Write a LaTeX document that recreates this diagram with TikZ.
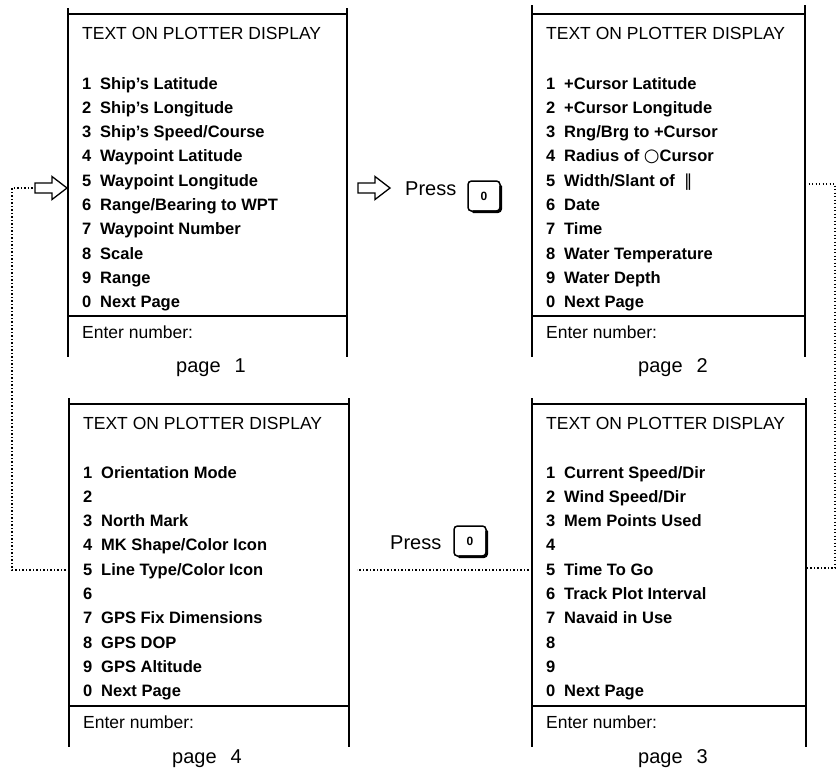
\documentclass[tikz,border=0pt]{standalone}
\usepackage{fontspec}
\setmainfont{Liberation Sans}
\newfontfamily\symfont{DejaVu Sans}
\usetikzlibrary{calc}
\newcommand\mypanel[5]{%
  \coordinate (#1-vtl) at (#2,#5);
  \coordinate (#1-vtr) at (#3,#5);
  \coordinate (#1-vbl) at (#2,#4+357);
  \coordinate (#1-vbr) at (#3,#4+357);
  \coordinate (#1-htl) at (#2,#4+14);
  \coordinate (#1-htr) at (#3,#4+14);
  \coordinate (#1-hsl) at (#2,#4+316);
  \coordinate (#1-hsr) at (#3,#4+316);
  \draw[frame] (#1-vtl) -- (#1-vbl);
  \draw[frame] (#1-vtr) -- (#1-vbr);
  \draw[sep] (#1-htl) -- (#1-htr);
  \draw[sep] (#1-hsl) -- (#1-hsr);
  \node[ttl] (#1-title) at (#2+14,#4+39) {TEXT ON PLOTTER DISPLAY};
  \node[ttl] (#1-enter) at (#2+14,#4+338) {Enter number:};
}
\newcommand\myitems[4]{%
  \foreach \n/\t [count=\i] in {#4} {
    \node[num] (#1-n\i) at (#2+14,{#3+89+24.3*(\i-1)}) {\n};
    \node[num] (#1-t\i) at (#2+32,{#3+89+24.3*(\i-1)}) {\t};
  }
}
\newcommand\mykey[2]{% #1 name, #2 position
  \node[keycap] (#1) at #2 {0};
  \draw[line width=2.6pt,rounded corners=3pt,line cap=round]
    ([yshift=-6pt]#1.north east) -- (#1.south east) -- ([xshift=6pt]#1.south west);
}
\newcommand\myarrow[3]{% #1 name, #2 tip x, #3 y
  \coordinate (#1-tip) at (#2,#3);
  \coordinate (#1-tail) at (#2-32,#3);
  \draw[line width=1.3pt,line join=miter] (#1-tail) -- ++(0,-5) -- ($(#1-tip)+(-15,-5)$)
    -- ($(#1-tip)+(-15,-11.5)$) -- (#1-tip) -- ($(#1-tip)+(-15,11.5)$)
    -- ($(#1-tip)+(-15,5)$) -- ($(#1-tail)+(0,5)$) -- cycle;
}
\begin{document}
\begin{tikzpicture}[x=1pt,y=-1pt,
  frame/.style={line width=1.3pt},
  sep/.style={line width=1.6pt},
  ttl/.style={anchor=base west,inner sep=0,font=\fontsize{17.5}{20}\selectfont},
  num/.style={anchor=base west,inner sep=0,font=\fontsize{16.5}{20}\selectfont\bfseries},
  plbl/.style={anchor=base,inner sep=0,font=\fontsize{20}{24}\selectfont},
  dotline/.style={line width=1.3pt,dash pattern=on 1.3pt off 2.2pt},
  keycap/.style={draw,line width=1.5pt,rounded corners=3.5pt,minimum width=32pt,
    minimum height=30pt,inner sep=0,font=\fontsize{12}{12}\selectfont\bfseries}
]
\useasboundingbox[fill=white] (0,0) rectangle (837,769);

% panels
\mypanel{p1}{68}{347}{0}{8}
\mypanel{p2}{532}{805}{0}{5}
\mypanel{p3}{532}{806}{390}{398}
\mypanel{p4}{69}{349}{390}{398}

\myitems{p1}{68}{0}{1/{Ship's Latitude},2/{Ship's Longitude},3/{Ship's Speed/Course},4/{Waypoint Latitude},5/{Waypoint Longitude},6/{Range/Bearing to WPT},7/{Waypoint Number},8/{Scale},9/{Range},0/{Next Page}}
\myitems{p2}{532}{0}{1/{+Cursor Latitude},2/{+Cursor Longitude},3/{Rng/Brg to +Cursor},4/{Radius of {\symfont\mdseries\fontsize{18}{20}\selectfont ○}Cursor},5/{Width/Slant of \ {\symfont\mdseries ‖}},6/{Date},7/{Time},8/{Water Temperature},9/{Water Depth},0/{Next Page}}
\myitems{p3}{532}{389}{1/{Current Speed/Dir},2/{Wind Speed/Dir},3/{Mem Points Used},4/{},5/{Time To Go},6/{Track Plot Interval},7/{Navaid in Use},8/{},9/{},0/{Next Page}}
\myitems{p4}{69}{389}{1/{Orientation Mode},2/{},3/{North Mark},4/{MK Shape/Color Icon},5/{Line Type/Color Icon},6/{},7/{GPS Fix Dimensions},8/{GPS DOP},9/{GPS Altitude},0/{Next Page}}

% page labels
\node[plbl] (p1-lbl) at (211,372) {page\hspace{0.7em}1};
\node[plbl] (p2-lbl) at (673,372) {page\hspace{0.7em}2};
\node[plbl] (p3-lbl) at (673,763) {page\hspace{0.7em}3};
\node[plbl] (p4-lbl) at (207,763) {page\hspace{0.7em}4};

% arrows and press labels
\myarrow{arrL}{67}{188}
\myarrow{arrM}{390}{188}
\node[plbl,anchor=base west] (press1) at (405,195) {Press};
\mykey{key1}{(484,196)}
\node[plbl,anchor=base west] (press2) at (390,549) {Press};
\mykey{key2}{(470,541)}

% dotted connectors
\coordinate (p4w) at (69,570);
\coordinate (lturn) at (12,188);
\draw[dotline] (p4w) -| (lturn) -- (arrL-tail);
\coordinate (p2e) at (805,184);
\coordinate (rturn) at (835,568);
\coordinate (p3e) at (806,568);
\draw[dotline] (p2e) -| (rturn) -- (p3e);
\coordinate (p3w) at (532,570);
\coordinate (p4e) at (357,570);
\draw[dotline] (p3w) -- (p4e);
\end{tikzpicture}
\end{document}
